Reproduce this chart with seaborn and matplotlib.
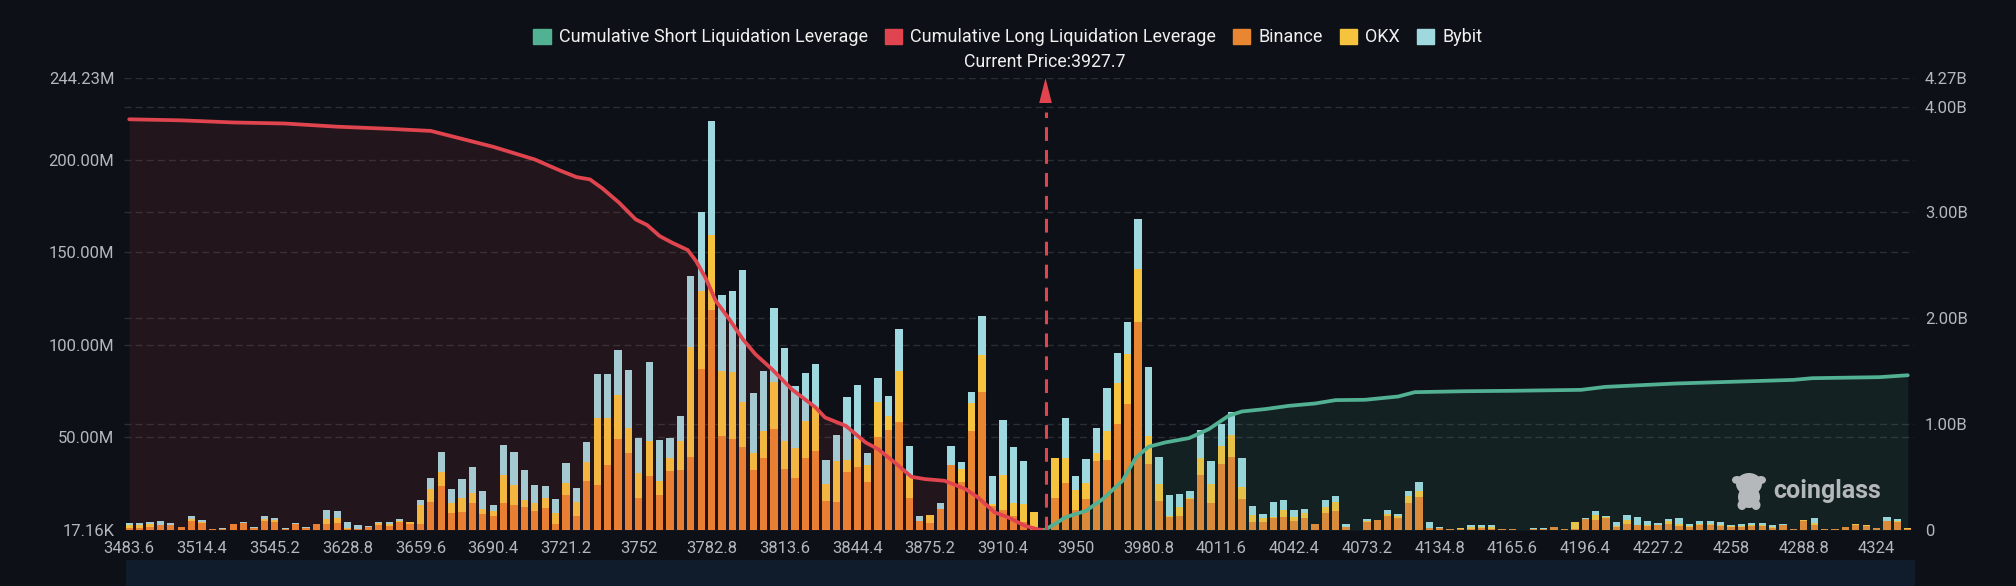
import matplotlib
matplotlib.use("Agg")
import matplotlib.pyplot as plt
from matplotlib.patches import Patch, Rectangle, Ellipse
import seaborn as sns
import pandas as pd
import numpy as np

binance = [1.1,1.3,1.6,2.5,2.5,1.8,5.0,3.6,.4,.5,3.2,4.0,1.1,5.0,4.3,.7,3.4,.9,3.1,3.2,4.0,.7,.5,1.6,2.5,2.3,4.3,3.2,
           3.1,15.1,23.8,9.0,9.7,14.4,8.6,7.6,14.4,13.3,12.3,10.3,11.7,3.2,18.9,7.7,26.7,24.5,35.3,49.4,41.8,17.3,29.0,18.9,32.1,32.4,
           39.6,87.0,118.9,51.0,49.4,45.0,32.6,38.9,54.6,33.0,28.1,38.9,42.5,15.9,15.3,31.5,33.9,25.9,50.1,54.1,58.6,17.3,5.0,4.0,11.5,35.1,
           25.8,53.7,74.8,13.2,10.8,7.7,4.1,1.4,.1,17.3,25.4,10.8,16.8,37.5,37.8,57.3,68.1,112.6,35.7,15.9,6.8,7.7,16.8,29.9,
           14.8,35.7,39.6,16.8,4.5,4.1,6.7,7.2,5.0,6.3,3.2,9.0,10.5,1.4,.2,4.1,5.4,7.7,6.3,14.8,18.0,.9,.9,.4,.7,.5,
           .9,.5,.5,.5,.2,.6,.6,1.4,.7,.7,5.8,5.6,6.5,1.8,3.2,2.5,2.2,2.5,3.2,2.3,1.4,2.9,2.7,2.3,1.4,1.8,2.0,2.2,1.1,2.7,
           .4,5.0,2.9,.5,.5,1.4,2.9,2.3,.9,4.7,4.5,.5]
okx = [1.4,1.4,1.6,.4,.4,0,1.1,.5,0,0,0,0,0,1.1,.9,0,0,0,0,2.7,2.3,.2,.2,0,1.1,.9,.5,.9,
       10.3,7.2,7.7,5.8,7.7,5.4,2.9,2.5,15.3,10.8,4.0,4.5,5.8,6.1,6.3,7.2,10.1,35.9,25.0,23.6,13.2,13.7,18.9,7.7,6.8,15.9,
       59.1,42.3,40.5,34.8,35.9,24.0,8.8,14.8,25.2,15.3,16.2,20.2,23.8,9.0,22.2,6.3,15.3,9.2,18.9,7.7,27.2,12.1,0,4.0,0,0,
       7.2,14.8,19.5,.9,19.1,6.7,9.9,8.5,0,21.6,13.5,10.8,8.7,4.1,15.7,22.2,27.0,28.5,15.1,9.0,.9,4.5,.4,8.8,
       10.1,9.6,11.5,6.5,3.6,2.2,.5,3.6,1.8,2.9,0,3.6,4.5,.4,0,.9,0,.7,1.3,3.4,2.9,.2,.2,0,.2,1.3,
       .9,.9,0,0,0,0,0,.1,0,3.6,.4,2.3,.4,.4,2.2,.4,.5,.4,1.8,.9,.5,.4,.5,.5,.7,.4,.7,.7,.7,.2,
       0,.4,.9,0,0,.2,.2,.2,0,.4,.5,.4]
bybit = [1.1,1.3,1.3,2.2,.7,0,1.3,1.3,.4,.4,.2,.2,.4,1.4,1.4,.5,.2,.7,.2,4.7,4.0,3.2,2.2,.4,.9,1.1,1.1,.4,
         2.7,5.8,10.5,7.2,9.9,14.1,9.7,3.6,16.0,18.0,16.0,9.5,6.3,7.6,10.8,7.7,10.8,24.0,24.0,24.0,31.2,18.7,43.1,22.3,10.8,13.5,
         38.7,42.7,61.8,41.3,44.0,71.7,32.8,32.4,40.4,50.3,33.3,25.9,23.4,13.0,13.9,34.2,29.0,6.5,13.2,10.8,22.9,15.9,2.7,0,3.2,10.1,
         4.0,6.1,21.6,15.3,29.6,30.3,23.1,0,0,0,21.6,7.6,13.0,13.7,23.4,16.4,17.5,27.0,37.1,14.8,11.4,7.2,4.0,15.1,
         12.6,11.9,12.8,15.5,4.7,2.3,7.7,5.2,3.8,2.3,0,3.8,3.6,1.3,0,.9,0,2.5,.9,3.1,4.9,3.1,.5,0,.4,1.1,
         .9,1.1,0,.2,0,.5,.6,.1,0,0,.2,2.5,.9,2.2,2.7,4.1,2.3,1.1,.9,3.4,1.3,1.3,1.6,1.6,.7,1.1,1.3,1.1,1.1,.5,
         0,.2,2.5,0,0,.2,.4,.4,0,2.0,.9,.4]

price_labels = ["3483.6","3514.4","3545.2","3628.8","3659.6","3690.4","3721.2","3752","3782.8","3813.6",
                "3844.4","3875.2","3910.4","3950","3980.8","4011.6","4042.4","4073.2","4134.8","4165.6",
                "4196.4","4227.2","4258","4288.8","4324"]

# cumulative lines, billions, at the bar index they were read from
long_idx = [0,5,10,15,20,25,29,31,33,35,37,39,41.4,43,44.3,45.5,47.1,48.7,49.8,51,52.2,53.7,54.5,55.4,56.4,57.7,59,60.2,
            61.8,63.7,66,66.9,68.9,70.8,72,73.6,75.2,76.5,78.4,80.4,81.6,83.2,84.5,86.1,87.4,88]
long_vals = [3.88,3.87,3.85,3.84,3.81,3.79,3.77,3.72,3.67,3.62,3.56,3.50,3.397,3.334,3.312,3.227,3.092,2.934,2.881,2.777,
             2.714,2.645,2.541,2.384,2.164,1.991,1.802,1.661,1.519,1.33,1.157,1.063,.984,.827,.764,.638,.503,.481,.465,
             .387,.308,.167,.12,.041,.005,0]
short_idx = [88,89,90,92,93.6,95.5,96.8,98,99.6,101.9,103.8,105.7,107,109.2,111.5,114,116,118.8,122,123.6,128.4,133,
             139.6,141.9,148.7,160,161.8,168.3,171]
short_vals = [0,.057,.12,.182,.292,.465,.686,.786,.827,.868,.953,1.079,1.12,1.142,1.173,1.195,1.227,1.23,1.261,1.302,
              1.311,1.315,1.324,1.352,1.384,1.418,1.434,1.444,1.462]

left_ticks = [0.01716, 50, 100, 150, 200, 244.23]
left_labels = ["17.16K", "50.00M", "100.00M", "150.00M", "200.00M", "244.23M"]
right_ticks = [0, 1, 2, 3, 4, 4.27]
right_labels = ["0", "1.00B", "2.00B", "3.00B", "4.00B", "4.27B"]
current_idx = 88.1

BG = "#0d1117"
GREEN = "#52b093"
RED = "#e0444e"
ORANGE = "#e98631"
YELLOW = "#f6c33f"
TEAL = "#9fd9df"
TICK = "#b4b8bc"
GRID = "#2b2f35"

sns.set_theme(style="dark")
plt.rcParams["figure.facecolor"] = BG
plt.rcParams["axes.facecolor"] = BG
plt.rcParams["font.family"] = ["Roboto", "DejaVu Sans"]
plt.rcParams["axes.edgecolor"] = BG

df = pd.DataFrame({"idx": range(len(binance)), "binance": binance, "okx": okx, "bybit": bybit})
df["b_o"] = df["binance"] + df["okx"]
df["total"] = df["b_o"] + df["bybit"]

W, H = 2016, 586
fig = plt.figure(figsize=(W / 100, H / 100), dpi=100)
ax = fig.add_axes([124 / W, 1 - 530 / H, (1914 - 124) / W, (530 - 78) / H])

# stack drawn back to front
for col, colour in [("total", TEAL), ("b_o", YELLOW), ("binance", ORANGE)]:
    sns.barplot(data=df, x="idx", y=col, color=colour, saturation=1, width=0.7, errorbar=None,
                linewidth=0, ax=ax, zorder=2)

ax.set_xlim(-0.5, 171.6)
ax.set_ylim(0, 244.23)
ax.set_xlabel("")
ax.set_ylabel("")
ax.set_xticks(range(0, 7 * len(price_labels), 7))
ax.set_xticklabels(price_labels)
ax.set_yticks(left_ticks)
ax.set_yticklabels(left_labels)
ax.tick_params(axis="both", length=0, labelsize=12, colors=TICK)
ax.tick_params(axis="x", pad=8)
ax.tick_params(axis="y", pad=7)
ax.grid(True, axis="y", color=GRID, linestyle=(0, (5, 3)), linewidth=1)
ax.set_axisbelow(True)
sns.despine(ax=ax, left=True, bottom=True)
# right axis grid sits behind the bars too
for t in right_ticks[1:-1]:
    ax.axhline(t * 244.23 / 4.27, color=GRID, linestyle=(0, (5, 3)), linewidth=1, zorder=1)

ax2 = ax.twinx()
ax2.patch.set_visible(False)
ax2.fill_between(long_idx, long_vals, color=RED, alpha=0.1, linewidth=0)
ax2.fill_between(short_idx, short_vals, color=GREEN, alpha=0.1, linewidth=0)
sns.lineplot(x=long_idx, y=long_vals, color=RED, linewidth=2.7, estimator=None, ax=ax2)
sns.lineplot(x=short_idx, y=short_vals, color=GREEN, linewidth=2.7, estimator=None, ax=ax2)
ax2.set_ylim(0, 4.27)
ax2.set_yticks(right_ticks)
ax2.set_yticklabels(right_labels)
ax2.tick_params(axis="y", length=0, labelsize=12, colors=TICK, pad=8)
ax2.grid(False)
ax2.set_ylabel("")
sns.despine(ax=ax2, left=True, bottom=True, right=True)

# current price marker
ax2.plot([current_idx, current_idx], [0, 3.95], color=RED, linewidth=2.2, linestyle=(0, (4.5, 3)))
ax2.annotate("", xy=(current_idx, 4.27), xytext=(current_idx, 3.95),
             arrowprops=dict(arrowstyle="-|>,head_width=0.38,head_length=1.5", color=RED, lw=0, shrinkA=0, shrinkB=0))
fig.text(1045 / W, 1 - 62 / H, "Current Price:3927.7", color="#f0f0f0", fontsize=12.8, ha="center", va="center")

handles = [Patch(color=GREEN, label="Cumulative Short Liquidation Leverage"),
           Patch(color=RED, label="Cumulative Long Liquidation Leverage"),
           Patch(color=ORANGE, label="Binance"),
           Patch(color=YELLOW, label="OKX"),
           Patch(color=TEAL, label="Bybit")]
fig.legend(handles=handles, ncol=5, loc="center", bbox_to_anchor=(1008 / W, 1 - 37.5 / H), frameon=False, fontsize=13,
           labelcolor="#f0f0f0", handlelength=0.95, handleheight=0.95, handletextpad=0.45, columnspacing=0.95, borderpad=0)

# band under the chart
fig.add_artist(Rectangle((126 / W, 0), (1915 - 126) / W, 26 / H, transform=fig.transFigure, color="#101b2c", lw=0))

# watermark
logo = "#b5b8bb"
for cx, cy, ew, eh in [(1749, 484, 26, 22), (1749, 497, 22, 22), (1742, 505, 9, 10), (1756, 505, 9, 10), (1737, 480, 10, 8), (1761, 480, 10, 8)]:
    fig.add_artist(Ellipse((cx / W, 1 - cy / H), ew / W, eh / H, transform=fig.transFigure, color=logo, lw=0))
fig.text(1773 / W, 1 - 491 / H, "coinglass", color=logo, fontsize=18, fontweight="bold", ha="left", va="center")

fig.savefig("out.png", dpi=100, facecolor=BG)
